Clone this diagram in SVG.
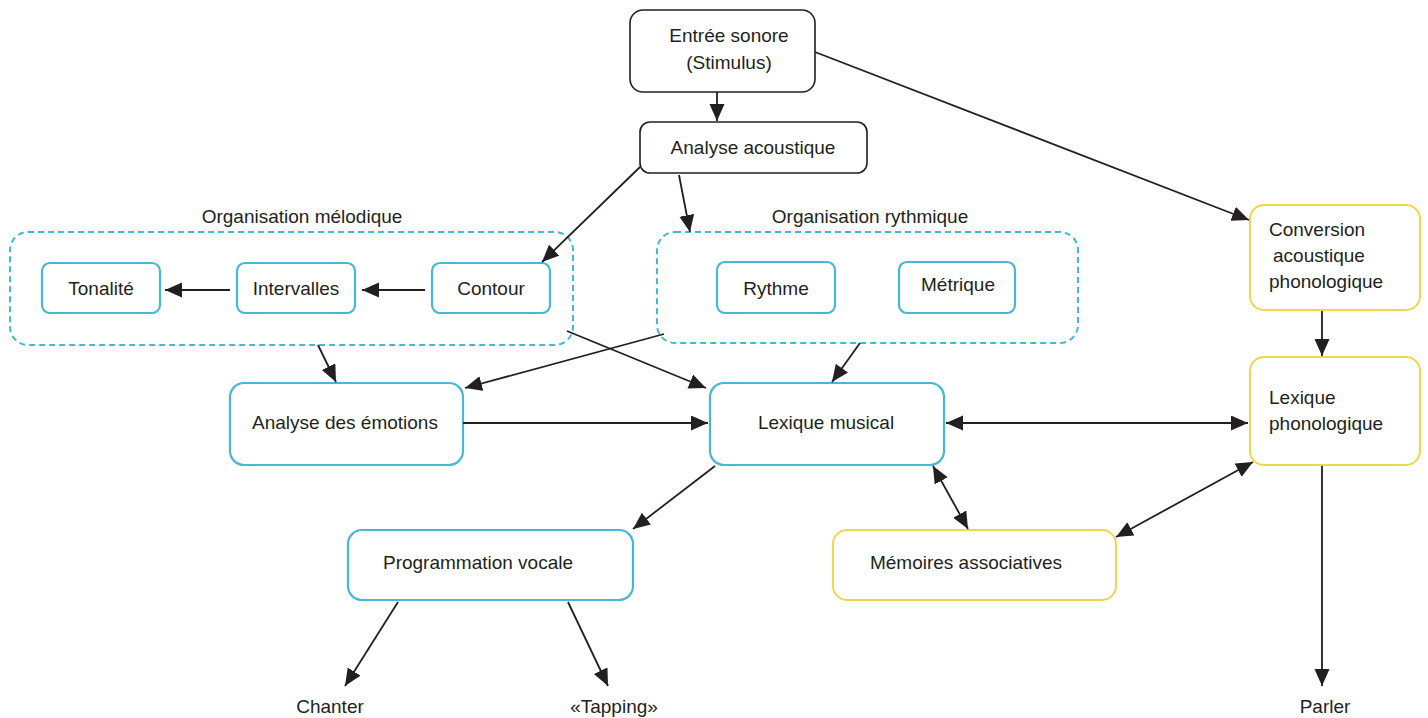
<svg xmlns="http://www.w3.org/2000/svg" width="1428" height="718" viewBox="0 0 1428 718">
<style>
text{font-family:"Liberation Sans",Arial,sans-serif;font-size:19px;fill:#231f20}
.c{text-anchor:middle}
.blk{fill:#fff;stroke:#231f20;stroke-width:1.6}
.cy{fill:#fff;stroke:#45b8d3;stroke-width:2.2}
.yl{fill:#fff;stroke:#f1d54c;stroke-width:2}
.dash{fill:none;stroke:#45b8d3;stroke-width:2;stroke-dasharray:6 4}
.ln{fill:none;stroke:#231f20;stroke-width:1.8;marker-end:url(#ah)}
.dbl{marker-start:url(#ah)}
</style>
<defs>
<marker id="ah" markerUnits="userSpaceOnUse" markerWidth="18" markerHeight="16" refX="17" refY="7.5" orient="auto-start-reverse">
<path d="M0,0 L17,7.5 L0,15 z" fill="#231f20"/>
</marker>
</defs>
<rect width="1428" height="718" fill="#fff"/>

<g id="grp-melodique">
<rect class="dash" x="10" y="232" width="563" height="113" rx="18"/>
<text class="c" x="302" y="223">Organisation mélodique</text>
</g>
<g id="grp-rythmique">
<rect class="dash" x="657" y="232" width="421" height="111" rx="18"/>
<text class="c" x="870" y="223">Organisation rythmique</text>
</g>

<g id="entree">
<rect class="blk" x="630" y="10" width="185" height="82" rx="13"/>
<text class="c" x="729" y="42">Entrée sonore</text>
<text class="c" x="729" y="69">(Stimulus)</text>
</g>
<g id="analyse-acoustique">
<rect class="blk" x="640" y="122" width="227" height="51" rx="10"/>
<text class="c" x="753" y="154">Analyse acoustique</text>
</g>
<g id="tonalite">
<rect class="cy" x="42" y="263" width="118" height="50" rx="8"/>
<text class="c" x="101" y="295">Tonalité</text>
</g>
<g id="intervalles">
<rect class="cy" x="237" y="263" width="118" height="50" rx="8"/>
<text class="c" x="296" y="295">Intervalles</text>
</g>
<g id="contour">
<rect class="cy" x="432" y="263" width="118" height="50" rx="8"/>
<text class="c" x="491" y="295">Contour</text>
</g>
<g id="rythme">
<rect class="cy" x="717" y="262" width="118" height="51" rx="8"/>
<text class="c" x="776" y="295">Rythme</text>
</g>
<g id="metrique">
<rect class="cy" x="899" y="262" width="116" height="51" rx="8"/>
<text class="c" x="958" y="291">Métrique</text>
</g>
<g id="conversion">
<rect class="yl" x="1250" y="205" width="170" height="105" rx="14"/>
<text x="1269" y="236">Conversion</text>
<text x="1273" y="262">acoustique</text>
<text x="1269" y="288">phonologique</text>
</g>
<g id="lexique-phonologique">
<rect class="yl" x="1250" y="357" width="170" height="108" rx="14"/>
<text x="1269" y="404">Lexique</text>
<text x="1269" y="430">phonologique</text>
</g>
<g id="analyse-emotions">
<rect class="cy" x="230" y="383" width="233" height="82" rx="14"/>
<text class="c" x="345" y="429">Analyse des émotions</text>
</g>
<g id="lexique-musical">
<rect class="cy" x="710" y="383" width="234" height="82" rx="14"/>
<text class="c" x="826" y="429">Lexique musical</text>
</g>
<g id="programmation-vocale">
<rect class="cy" x="348" y="530" width="285" height="70" rx="14"/>
<text class="c" x="478" y="569">Programmation vocale</text>
</g>
<g id="memoires">
<rect class="yl" x="833" y="530" width="283" height="70" rx="14"/>
<text class="c" x="966" y="569">Mémoires associatives</text>
</g>
<g id="outputs">
<text class="c" x="330" y="713">Chanter</text>
<text class="c" x="614" y="713">«Tapping»</text>
<text class="c" x="1325" y="713">Parler</text>
</g>

<g id="connectors">
<line class="ln" x1="717" y1="92" x2="717" y2="121"/>
<line class="ln" x1="640" y1="167" x2="542" y2="262"/>
<line class="ln" x1="679" y1="175" x2="690" y2="232"/>
<line class="ln" x1="815" y1="52" x2="1249" y2="220"/>
<line class="ln" x1="425" y1="290" x2="362" y2="290"/>
<line class="ln" x1="230" y1="290" x2="165" y2="290"/>
<line class="ln" x1="1322" y1="311" x2="1322" y2="356"/>
<line class="ln" x1="318" y1="345" x2="336" y2="382"/>
<line class="ln" x1="567" y1="331" x2="706" y2="388"/>
<line class="ln" x1="664" y1="334" x2="465" y2="388"/>
<line class="ln" x1="860" y1="343" x2="832" y2="382"/>
<line class="ln" x1="463" y1="423" x2="708" y2="423"/>
<line class="ln dbl" x1="946" y1="423" x2="1248" y2="423"/>
<line class="ln" x1="715" y1="466" x2="633" y2="529"/>
<line class="ln dbl" x1="933" y1="466" x2="968" y2="529"/>
<line class="ln dbl" x1="1116" y1="537" x2="1253" y2="462"/>
<line class="ln" x1="398" y1="602" x2="345" y2="686"/>
<line class="ln" x1="568" y1="602" x2="608" y2="686"/>
<line class="ln" x1="1322" y1="466" x2="1322" y2="686"/>
</g>
</svg>
